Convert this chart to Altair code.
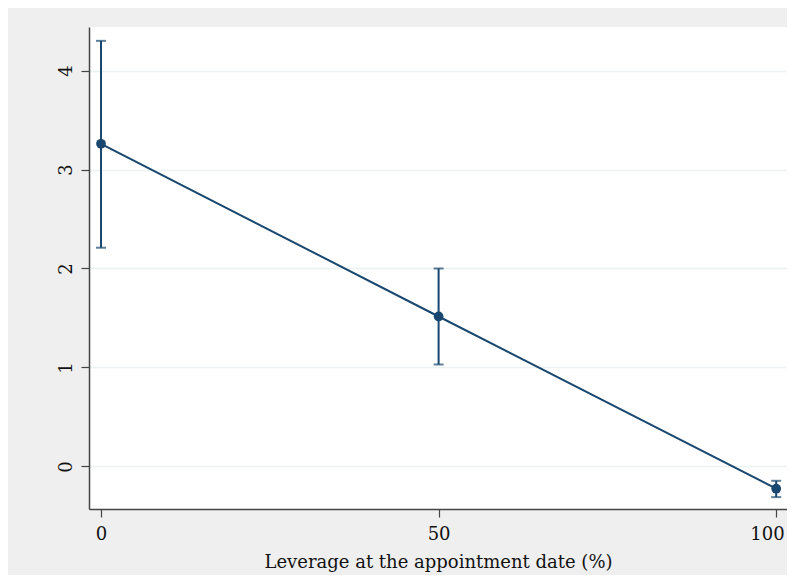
import altair as alt
import pandas as pd

leverage = [0, 50, 100]
estimate = [3.26, 1.515, -0.225]
ci_low = [2.21, 1.03, -0.31]
ci_high = [4.30, 2.00, -0.145]

x_ticks = [0, 50, 100]
y_ticks = [0, 1, 2, 3, 4]

df = pd.DataFrame({"lev": leverage, "est": estimate, "lo": ci_low, "hi": ci_high})

NAVY = "#1a476f"
FONT = "DejaVu Serif"

xs = alt.Scale(domain=[-1.78, 101.6], nice=False, zero=False)
ys = alt.Scale(domain=[-0.43, 4.44], nice=False, zero=False)

x_enc = alt.X("lev:Q", scale=xs,
              axis=alt.Axis(values=x_ticks, title="Leverage at the appointment date (%)",
                            grid=False, format="d"))
y_enc = alt.Y("est:Q", scale=ys,
              axis=alt.Axis(values=y_ticks, title=None, grid=True, format="d",
                            labelAngle=270, labelAlign="center", labelBaseline="bottom"))

base = alt.Chart(df)

line = base.mark_line(color=NAVY, strokeWidth=2).encode(x=x_enc, y=y_enc)
rules = base.mark_rule(color=NAVY, strokeWidth=2).encode(
    x="lev:Q", y=alt.Y("lo:Q", scale=ys), y2="hi:Q")
cap_lo = base.mark_tick(color=NAVY, size=10, thickness=2, orient="horizontal").encode(
    x="lev:Q", y=alt.Y("lo:Q", scale=ys))
cap_hi = base.mark_tick(color=NAVY, size=10, thickness=2, orient="horizontal").encode(
    x="lev:Q", y=alt.Y("hi:Q", scale=ys))
pts = base.mark_circle(color=NAVY, size=95, opacity=1).encode(x="lev:Q", y="est:Q")

chart = (line + rules + cap_lo + cap_hi + pts).properties(
    width=698, height=482,
    background="#efefef",
    autosize=alt.AutoSizeParams(type="none"),
    padding={"left": 81, "top": 19, "right": 0, "bottom": 66},
).configure_view(
    stroke=None, fill="white"
).configure_axis(
    labelFont=FONT, titleFont=FONT, labelFontSize=18, titleFontSize=18,
    labelColor="#111", titleColor="#111", titleFontWeight="normal",
    domainColor="#444", domainWidth=1.5, tickColor="#444", tickWidth=1.2, tickSize=8,
    gridColor="#eaf2f3", gridWidth=1.5,
).configure_axisX(
    labelPadding=8, titlePadding=10, labelOverlap=False, labelBound=False,
    labelFlush=11.5, labelFlushOffset=8,
).configure_axisY(
    labelPadding=6,
)

chart.save("out.html", embed_options={"renderer": "svg", "actions": False})
